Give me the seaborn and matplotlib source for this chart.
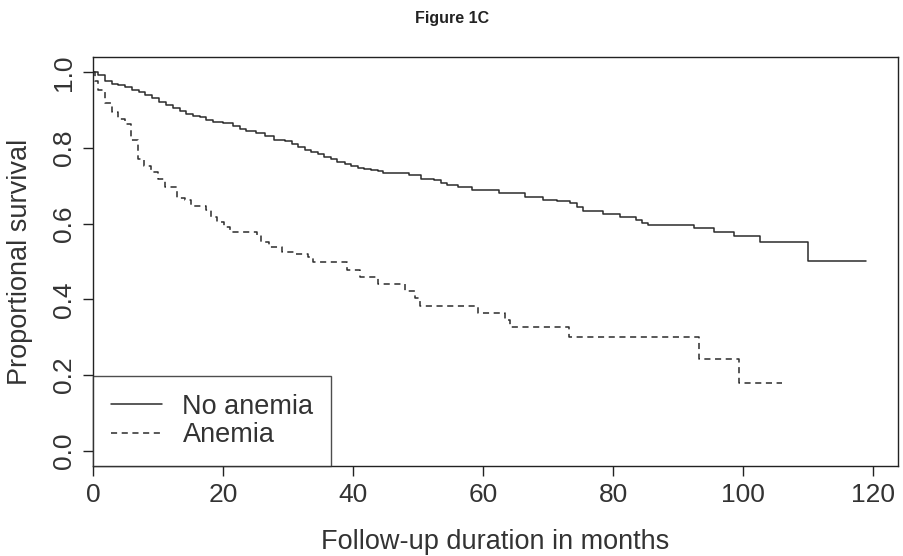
import numpy as np
import pandas as pd
import matplotlib
matplotlib.use("Agg")
import matplotlib.pyplot as plt
import seaborn as sns

# ---- data (Kaplan-Meier step curves) ----
no_anemia_time = [0, 0.8, 1.9, 2.9, 3.9, 4.9, 6.0, 7.0, 8.0, 9.0, 10.2, 11.2, 12.3, 13.3,
                  14.3, 15.3, 16.4, 17.4, 18.4, 20.0, 21.5, 22.6, 23.6, 25.1, 26.5, 27.8,
                  29.6, 30.6, 31.6, 32.6, 33.6, 34.6, 35.6, 36.6, 37.6, 38.7, 39.7, 40.7,
                  41.7, 42.8, 43.8, 44.6, 48.6, 50.5, 52.5, 53.5, 54.5, 56.2, 58.3, 62.4,
                  66.5, 69.3, 71.4, 73.4, 74.4, 75.4, 78.5, 81.0, 83.6, 84.5, 85.4, 92.4,
                  95.5, 98.6, 102.6, 110.0, 119.0]
no_anemia_surv = [1.0, 0.993, 0.976, 0.970, 0.966, 0.961, 0.954, 0.947, 0.941, 0.932, 0.923,
                  0.915, 0.906, 0.897, 0.891, 0.885, 0.881, 0.875, 0.869, 0.865, 0.858,
                  0.851, 0.845, 0.840, 0.832, 0.822, 0.818, 0.812, 0.803, 0.794, 0.790,
                  0.784, 0.776, 0.770, 0.763, 0.759, 0.753, 0.748, 0.744, 0.741, 0.739,
                  0.734, 0.728, 0.719, 0.715, 0.709, 0.703, 0.697, 0.689, 0.680, 0.671,
                  0.662, 0.659, 0.654, 0.645, 0.633, 0.627, 0.618, 0.609, 0.602, 0.596,
                  0.588, 0.579, 0.567, 0.552, 0.501, 0.501]

anemia_time = [0, 0.3, 0.8, 1.9, 2.9, 3.8, 4.9, 5.9, 6.9, 7.9, 8.9, 10.0, 11.0, 12.9, 14.1,
               15.1, 17.3, 18.2, 19.1, 20.1, 21.0, 25.2, 25.9, 27.0, 29.0, 31.1, 33.1, 33.9,
               39.0, 41.1, 43.9, 48.0, 49.5, 50.3, 59.2, 63.4, 64.1, 73.2, 93.3, 99.4, 106.0]
anemia_surv = [1.0, 0.977, 0.954, 0.919, 0.895, 0.878, 0.864, 0.821, 0.770, 0.752, 0.737,
               0.719, 0.697, 0.669, 0.662, 0.646, 0.636, 0.618, 0.605, 0.592, 0.579, 0.570,
               0.552, 0.539, 0.526, 0.521, 0.511, 0.499, 0.478, 0.458, 0.442, 0.423, 0.403,
               0.383, 0.365, 0.346, 0.328, 0.302, 0.242, 0.180, 0.180]

groups = ["No anemia", "Anemia"]
x_ticks = [0, 20, 40, 60, 80, 100, 120]
y_ticks = [0.0, 0.2, 0.4, 0.6, 0.8, 1.0]
y_tick_labels = ["0.0", "0.2", "0.4", "0.6", "0.8", "1.0"]

df = pd.concat([
    pd.DataFrame({"time": no_anemia_time, "surv": no_anemia_surv, "group": groups[0]}),
    pd.DataFrame({"time": anemia_time, "surv": anemia_surv, "group": groups[1]}),
], ignore_index=True)

# ---- styling ----
sns.set_style("ticks")
plt.rcParams["font.family"] = ["Liberation Sans", "DejaVu Sans"]

fig = plt.figure(figsize=(9.04, 5.56), dpi=100)
ax = fig.add_axes([0.103, 0.162, 0.890, 0.735])

line_color = "#2b2b2b"
sns.lineplot(data=df, x="time", y="surv", hue="group", style="group",
             hue_order=groups, style_order=groups,
             palette={groups[0]: line_color, groups[1]: line_color},
             dashes={groups[0]: "", groups[1]: (4, 3)},
             estimator=None, sort=False, drawstyle="steps-post",
             linewidth=1.1, ax=ax, legend=True)

ax.set_xlim(0, 123.8)
ax.set_ylim(-0.04, 1.04)
ax.set_xticks(x_ticks)
ax.set_xticklabels([str(v) for v in x_ticks])
ax.set_yticks(y_ticks)
ax.set_yticklabels(y_tick_labels, rotation=90, va="center")
for s in ax.spines.values():
    s.set_visible(True)
    s.set_color("#222222")
    s.set_linewidth(1.0)
ax.tick_params(axis="both", direction="out", length=7, width=1.0, colors="#222222",
               labelsize=19, labelcolor="#333333", pad=5)

ax.set_xlabel("Follow-up duration in months", fontsize=19.5, color="#333333", labelpad=16)
ax.set_ylabel("Proportional survival", fontsize=19.5, color="#333333", labelpad=14)

fig.text(0.5, 0.967, "Figure 1C", ha="center", va="center", fontsize=11.5,
         fontweight="bold", color="#222222")

leg = ax.legend(loc="lower left", borderaxespad=0, fancybox=False, frameon=True,
                edgecolor="#222222", fontsize=19.5, handlelength=1.9, handletextpad=0.75,
                borderpad=0.65, labelspacing=0.1, title=None)
leg.get_frame().set_linewidth(1.0)
for t in leg.get_texts():
    t.set_color("#333333")
for h in leg.get_lines():
    h.set_linewidth(1.1)

fig.savefig("out.png", dpi=100, facecolor="white")
